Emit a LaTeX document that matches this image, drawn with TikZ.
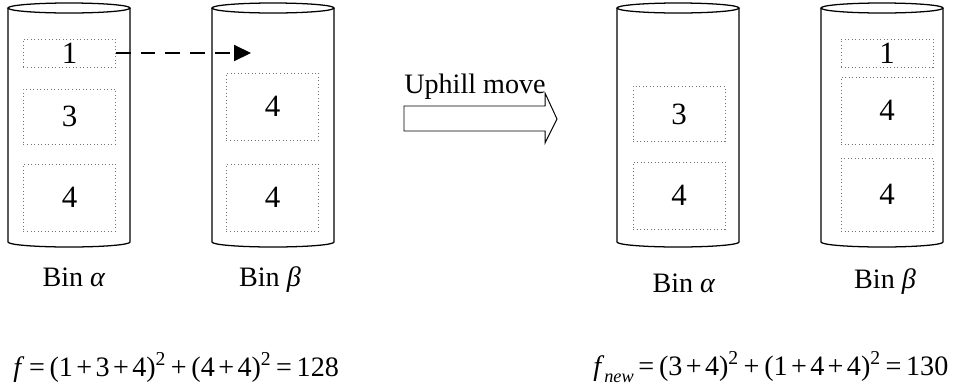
\documentclass[tikz,border=0pt]{standalone}
\usepackage{fontspec}
\setmainfont{Liberation Serif}
\usetikzlibrary{arrows.meta,positioning}

\newcommand{\opsp}{\hspace{0.12em}}
\newcommand{\subnew}{\raisebox{-0.28em}{\fontsize{13}{13}\selectfont\textit{new}}}

\begin{document}
\begin{tikzpicture}[
      x=0.025cm, y=-0.025cm,
      font=\fontsize{20}{24}\selectfont,
      bin/.style={draw=black, line width=0.9pt},
      item/.style={draw=black!55, dotted, line width=0.5pt, inner sep=0pt,
        minimum width=2.3cm, font=\fontsize{22}{26}\selectfont},
      small/.style={item, minimum height=0.7cm},
      mid/.style={item, minimum height=1.375cm},
      big/.style={item, minimum height=1.675cm},
      label/.style={anchor=base, inner sep=0pt},
      move/.style={-{Triangle[length=0.42cm, width=0.4cm]}, line width=0.9pt,
        dash pattern=on 0.37cm off 0.25cm}
    ]
    \useasboundingbox (0,0) rectangle (958,390);

    % the four bins
    \foreach \bx in {8,212,617,821} {
      \draw[bin] (\bx+61,8) ellipse [x radius=1.525cm, y radius=0.125cm];
      \draw[bin] (\bx,8) -- (\bx,242)
        arc [start angle=180, end angle=360, x radius=1.525cm, y radius=0.125cm]
        -- (\bx+122,8);
    }

    % before the move
    \node[small] (alphaOne) at (69.5,53) {1};
    \node[mid] (alphaThree) at (69.5,116.5) {3};
    \node[big] (alphaFour) at (69.5,197.5) {4};
    \node[big] (betaFourA) at (272.5,106.5) {4};
    \node[big] (betaFourB) at (272.5,197.5) {4};

    % after the move
    \node[mid] (newAlphaThree) at (679,114) {3};
    \node[big] (newAlphaFour) at (679,195.5) {4};
    \node[small] (newBetaOne) at (887,53) {1};
    \node[big] (newBetaFourA) at (887,110.5) {4};
    \node[big, minimum height=1.825cm] (newBetaFourB) at (887,194.5) {4};

    \node[label] (alphaLabel) at (74,286) {Bin \textit{α}};
    \node[label] (betaLabel) at (270,286) {Bin \textit{β}};
    \node[label] (newAlphaLabel) at (684,292) {Bin \textit{α}};
    \node[label] (newBetaLabel) at (885,288) {Bin \textit{β}};

    \coordinate (target) at (251,53);
    \draw[move] (alphaOne.east) -- (target);

    % block arrow
    \draw[line width=0.7pt] (404,106) -- (545,106) -- (545,93) -- (557,119)
      -- (545,143) -- (545,131) -- (404,131) -- cycle;
    \node[anchor=base west, inner sep=0pt] (uphill) at (404,93) {Uphill move};

    \node[anchor=base west, inner sep=0pt] (fOld) at (13,376)
      {\textit{f}\,=\,(1\opsp+\opsp3\opsp+\opsp4)\textsuperscript{2}\,+\,(4\opsp+\opsp4)\textsuperscript{2}\,=\,128};
    \node[anchor=base west, inner sep=0pt] (fNew) at (593,375)
      {\textit{f}\subnew\,=\,(3\opsp+\opsp4)\textsuperscript{2}\,+\,(1\opsp+\opsp4\opsp+\opsp4)\textsuperscript{2}\,=\,130};
  \end{tikzpicture}
\end{document}
